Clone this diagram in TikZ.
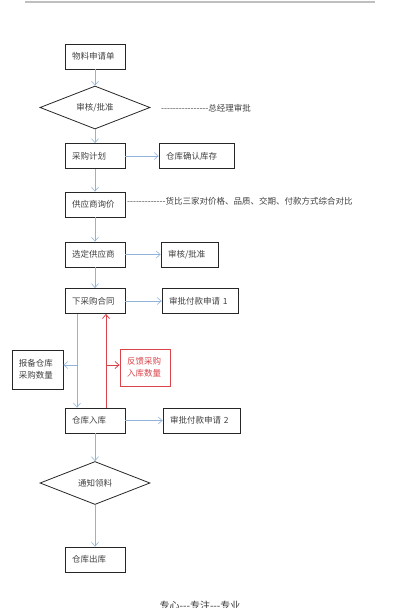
\documentclass[tikz,border=0pt]{standalone}
\usepackage{fontspec}
\setmainfont{Noto Sans CJK SC}[Ligatures=TeXOff]
\usepackage{tikz}
\usetikzlibrary{shapes.geometric,arrows.meta}
\definecolor{flowblue}{HTML}{8FB3D9}
\definecolor{fbred}{HTML}{D9434A}

\tikzset{
  box/.style={draw=black!85, line width=0.8pt, minimum height=25pt, inner xsep=7pt,
    inner ysep=0pt, text width=#1, align=left, text=black!75,
    font=\fontsize{8.5}{12}\selectfont},
  box/.default=46pt,
  decision/.style={draw=black!85, line width=0.8pt, diamond, aspect=2.55, inner sep=0pt,
    minimum width=110pt, minimum height=43pt, text=black!75,
    font=\fontsize{8.5}{11}\selectfont},
  note/.style={anchor=west, inner sep=0pt, text=black!75, font=\fontsize{8.5}{11}\selectfont},
  flow/.style={draw=flowblue, line width=0.6pt, -{Straight Barb[length=4pt,width=7pt]}},
  back/.style={draw=fbred, line width=0.8pt, -{Straight Barb[length=4pt,width=7pt]}}
}

\begin{document}
\begin{tikzpicture}[x=1pt,y=-1pt]
\useasboundingbox (0,0) rectangle (400,608);
% page rule on top
\draw[black!25, line width=1.5pt] (25,2) -- (375,2);

% main column
\node[box] (shenqing) at (95,56.5) {物料申请单};
\node[decision] (shenhe) at (95,107.5) {审核/批准};
\node[note] (zongjingli) at (161,108) {----------------总经理审批};
\node[box] (jihua) at (95,156) {采购计划};
\node[box=61pt] (kucun) at (196.5,156) {仓库确认库存};
\node[box] (xunjia) at (95,204.5) {供应商询价};
\node[note] (bijia) at (127,201) {-------------货比三家对价格、品质、交期、付款方式综合对比};
\node[box] (xuanding) at (95,254.5) {选定供应商};
\node[box=43pt] (pizhun) at (189.5,254.5) {审核/批准};
\node[box] (hetong) at (95,301) {下采购合同};
\node[box=62pt] (fukuan1) at (200,301) {审批付款申请 1};

% side boxes
\node[box=37pt, minimum height=39pt] (baobei) at (37.5,369.5) {报备仓库\\采购数量};
\node[box=36pt, minimum height=37pt, draw=fbred, text=fbred] (fankui) at (145,367.5) {反馈采购\\入库数量};

\node[box] (ruku) at (95,420.5) {仓库入库};
\node[box=63pt] (fukuan2) at (201.5,420.5) {审批付款申请 2};
\node[decision] (tongzhi) at (95,483) {通知领料};
\node[box] (chuku) at (95,559.5) {仓库出库};

% footer, cut by the page edge
\node[text=black!80, font=\fontsize{10}{12}\selectfont] (motto) at (200,606) {专心---专注---专业};

% connectors
\draw[flow] (shenqing) -- (shenhe);
\draw[flow] (shenhe) -- (jihua);
\draw[flow] (jihua) -- (kucun);
\draw[flow] (jihua) -- (xunjia);
\draw[flow] (xunjia) -- (xuanding);
\draw[flow] (xuanding) -- (pizhun);
\draw[flow] (xuanding) -- (hetong);
\draw[flow] (hetong) -- (fukuan1);
\draw[flow] ([xshift=-18pt]hetong.south) -- ([xshift=-18pt]ruku.north);
\coordinate (fork) at (77,365);
\draw[flow] (fork) -- (fork -| baobei.east);
% feedback in red
\draw[back] ([xshift=11pt]ruku.north) -- ([xshift=11pt]hetong.south);
\coordinate (redfork) at (106,365);
\draw[back] (redfork) -- (redfork -| fankui.west);
\draw[flow] (ruku) -- (fukuan2);
\draw[flow] (ruku) -- (tongzhi);
\draw[flow] (tongzhi) -- (chuku);
\end{tikzpicture}
\end{document}
